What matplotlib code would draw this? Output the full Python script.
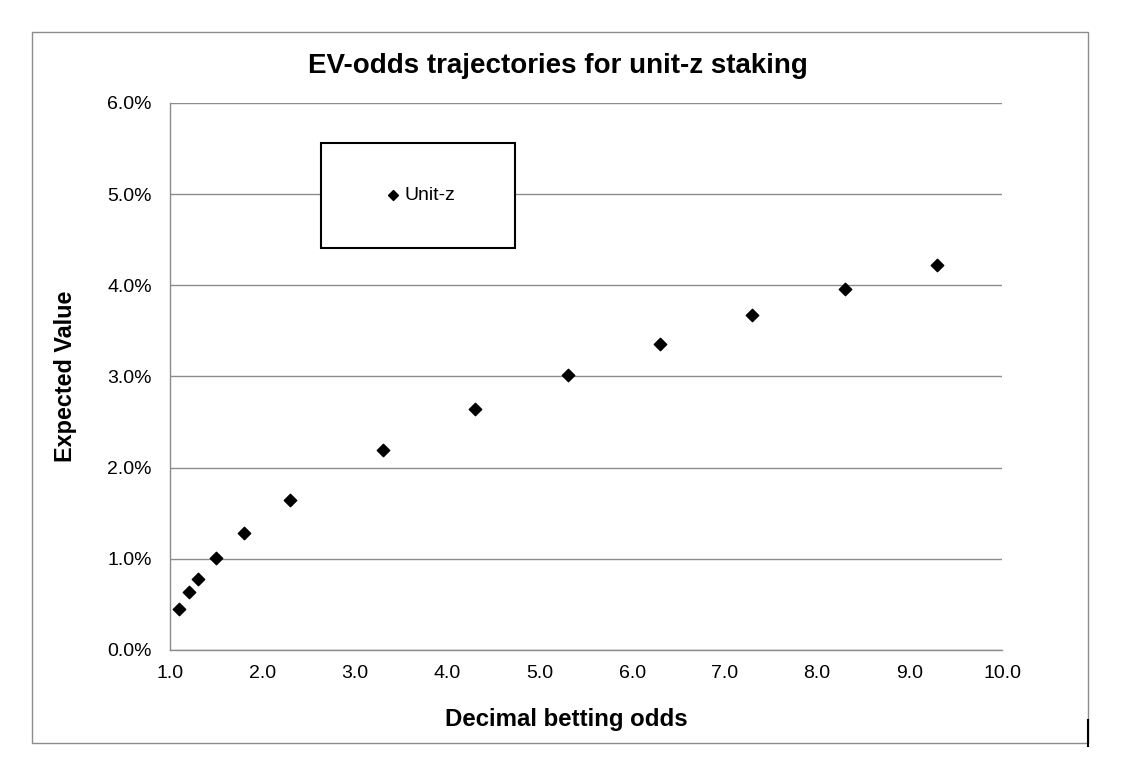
import matplotlib.pyplot as plt
from matplotlib.patches import Rectangle
from matplotlib.lines import Line2D
from matplotlib.ticker import FuncFormatter

plt.rcParams['font.family'] = ['Liberation Sans', 'DejaVu Sans']

# data
odds = [1.1, 1.2, 1.3, 1.5, 1.8, 2.3, 3.3, 4.3, 5.3, 6.3, 7.3, 8.3, 9.3]
ev = [0.0045, 0.0064, 0.0078, 0.0101, 0.0128, 0.0164, 0.0219, 0.0264,
      0.0302, 0.0336, 0.0367, 0.0396, 0.0422]
x_ticks = [1, 2, 3, 4, 5, 6, 7, 8, 9, 10]
y_ticks = [0, 0.01, 0.02, 0.03, 0.04, 0.05, 0.06]

fig = plt.figure(figsize=(11.23, 7.61), dpi=100)
ax = fig.add_axes([0.1514, 0.1459, 0.7409, 0.7188])

ax.scatter(odds, ev, marker='D', s=40, color='black', label='Unit-z', zorder=3)

ax.set_xlim(1, 10)
ax.set_ylim(0, 0.06)
ax.set_xticks(x_ticks)
ax.set_yticks(y_ticks)
ax.xaxis.set_major_formatter(FuncFormatter(lambda v, p: f'{v:.1f}'))
ax.yaxis.set_major_formatter(FuncFormatter(lambda v, p: f'{v*100:.1f}%'))
ax.tick_params(length=0, labelsize=14)
ax.tick_params(axis='x', pad=11)
ax.tick_params(axis='y', pad=13)
ax.grid(axis='y', color='#8c8c8c', linewidth=1)
ax.set_axisbelow(True)
for s in ['top', 'right']:
    ax.spines[s].set_visible(False)
for s in ['left', 'bottom']:
    ax.spines[s].set_color('#8c8c8c')
    ax.spines[s].set_linewidth(1)

ax.set_xlabel('Decimal betting odds', fontsize=17.3, fontweight='bold')
ax.xaxis.set_label_coords(0.476, -0.106)
ax.set_ylabel('Expected Value', fontsize=16.8, fontweight='bold', labelpad=22)

# legend box
box = (0.1815, 0.735, 0.233, 0.192)
ax.add_patch(Rectangle(box[:2], box[2], box[3], transform=ax.transAxes,
                       facecolor='white', edgecolor='black', linewidth=1.5, zorder=4))
leg = ax.legend(loc='center', bbox_to_anchor=box, frameon=False, fontsize=14,
                handletextpad=0.0, handlelength=1.2, markerscale=0.8)
leg.set_zorder(5)

fig.text(0.497, 0.913, 'EV-odds trajectories for unit-z staking',
         fontsize=20, fontweight='bold', ha='center', va='center')

# outer chart border
fig.add_artist(Rectangle((32 / 1123, 1 - 743 / 761), (1088 - 32) / 1123, (743 - 32) / 761,
                         transform=fig.transFigure, fill=False,
                         edgecolor='#8c8c8c', linewidth=1))
fig.add_artist(Line2D([1088 / 1123, 1088 / 1123], [1 - 720 / 761, 1 - 746 / 761],
                      transform=fig.transFigure, color='black', linewidth=1.5))

fig.savefig('out.png', dpi=100)
